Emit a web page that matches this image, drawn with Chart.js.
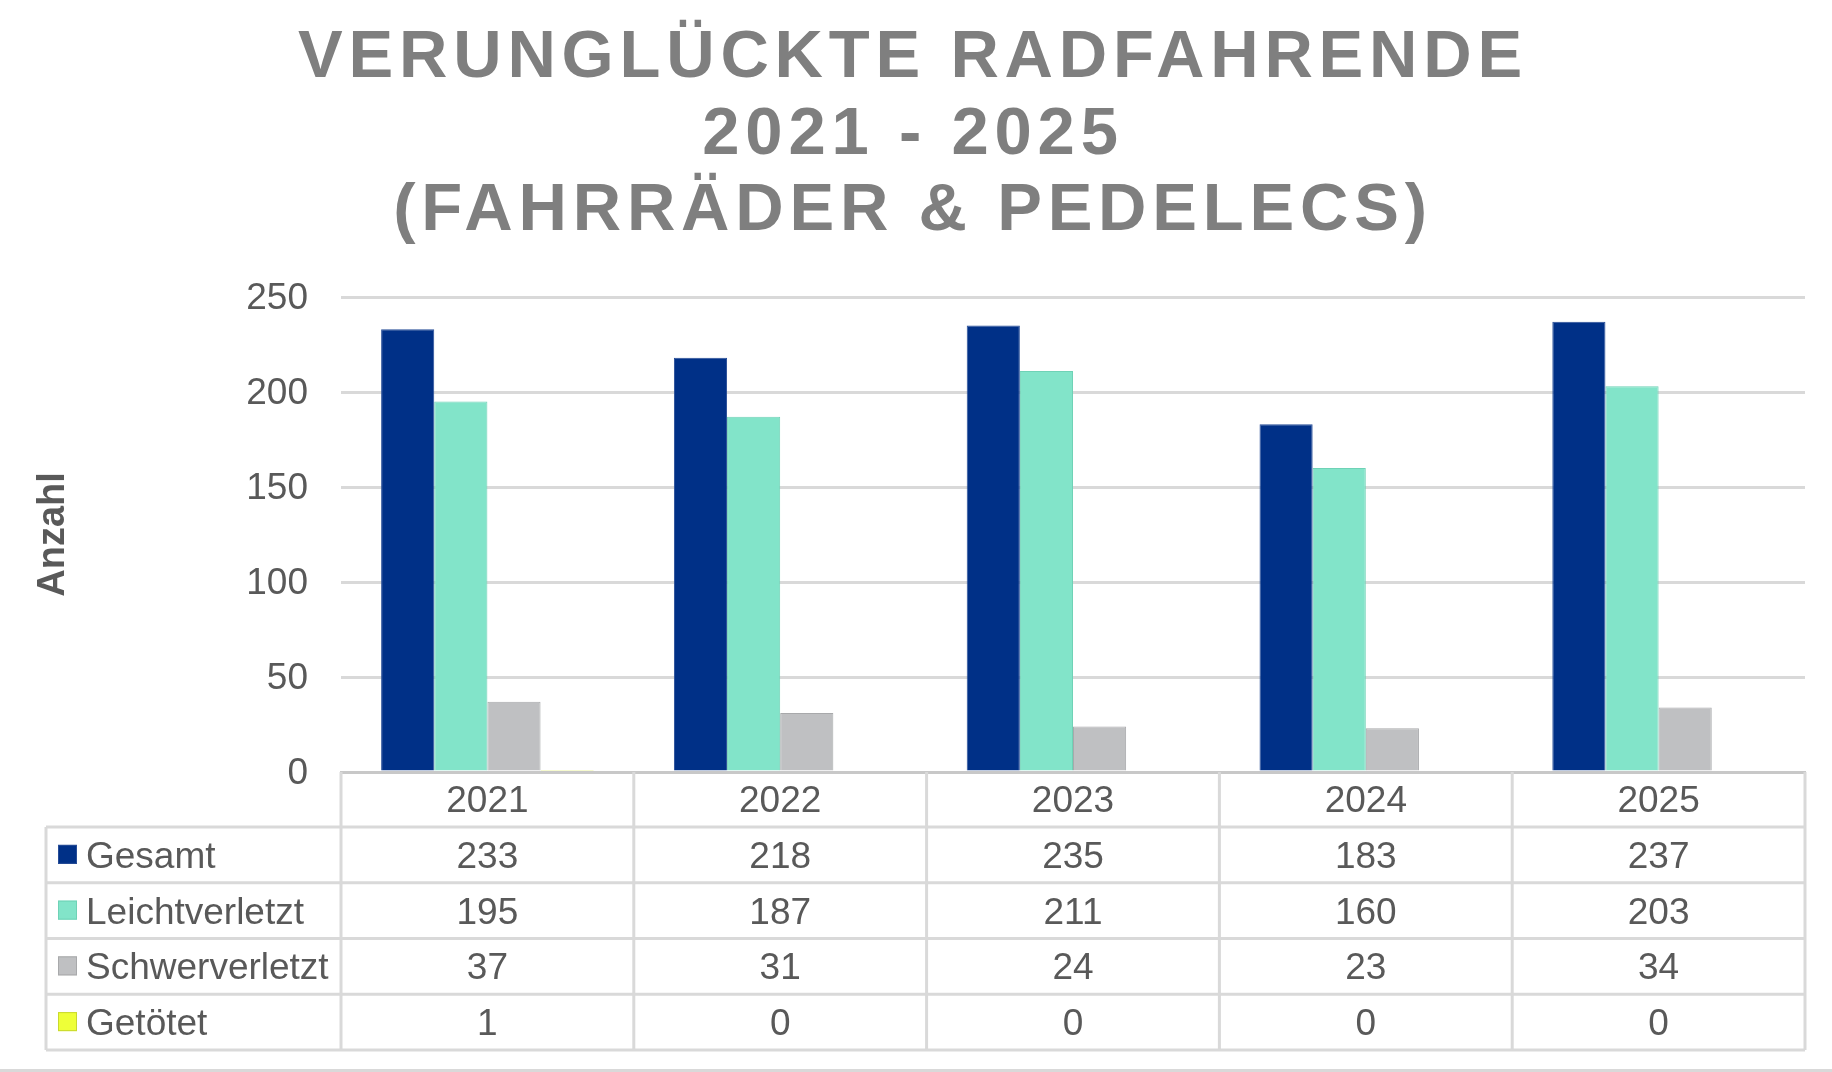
<!DOCTYPE html>
<html>
<head>
<meta charset="utf-8">
<title>Verunglückte Radfahrende 2021 - 2025</title>
<script src="https://cdn.jsdelivr.net/npm/chart.js@4.4.1/dist/chart.umd.min.js"></script>
<style>
  html, body { margin: 0; padding: 0; background: #fff; }
  #wrap { width: 1832px; height: 1072px; position: relative; }
</style>
</head>
<body>
<div id="wrap"><canvas id="radChart"></canvas></div>
<script>
const years = ['2021', '2022', '2023', '2024', '2025'];
const gesamt = [233, 218, 235, 183, 237];
const leicht = [195, 187, 211, 160, 203];
const schwer = [37, 31, 24, 23, 34];
const getoetet = [1, 0, 0, 0, 0];
const seriesNames = ['Gesamt', 'Leichtverletzt', 'Schwerverletzt', 'Getötet'];
const yTicks = [0, 50, 100, 150, 200, 250];
const titleLines = ['VERUNGLÜCKTE RADFAHRENDE', '2021 - 2025', '(FAHRRÄDER & PEDELECS)'];

const fills = ['#003087', '#82E4C9', '#BFC0C2', '#EEFF38'];
const edges = ['#264C97', '#6FD2B6', '#A8A9AB', '#C9D92E'];
const FONT = '"Liberation Sans", Arial, sans-serif';
const TEXT = '#595959';
const LINE = '#D9D9D9';

// big spaced-out title on top
const titlePlugin = {
  id: 'bigTitle',
  afterDraw(chart) {
    const ctx = chart.ctx;
    ctx.save();
    ctx.font = 'bold 67px ' + FONT;
    ctx.fillStyle = '#7F7F7F';
    ctx.textAlign = 'center';
    ctx.textBaseline = 'alphabetic';
    ctx.letterSpacing = '5.8px';
    for (let i = 0; i < titleLines.length; i++) {
      ctx.fillText(titleLines[i], 913, 77 + i * 76.5);
    }
    ctx.restore();
  }
};

// data table under the x axis, like the excel one
const tablePlugin = {
  id: 'dataTable',
  afterDraw(chart) {
    const ctx = chart.ctx;
    const xs = chart.scales.x;
    const top = chart.chartArea.bottom;
    const n = years.length;
    const colW = (xs.right - xs.left) / n;
    const firstRow = top + 55;
    const rowH = 55.75;
    const tableLeft = 46;
    const rows = [gesamt, leicht, schwer, getoetet];

    ctx.save();
    ctx.strokeStyle = LINE;
    ctx.lineWidth = 3;
    ctx.beginPath();
    for (let k = 0; k <= rows.length; k++) {
      const y = firstRow + k * rowH;
      ctx.moveTo(tableLeft, y);
      ctx.lineTo(xs.right, y);
    }
    for (let i = 0; i <= n; i++) {
      const x = xs.left + i * colW;
      ctx.moveTo(x, top);
      ctx.lineTo(x, firstRow + rows.length * rowH);
    }
    ctx.moveTo(tableLeft, firstRow);
    ctx.lineTo(tableLeft, firstRow + rows.length * rowH);
    // outer frame line at the very bottom
    ctx.moveTo(0, 1070.5);
    ctx.lineTo(chart.width, 1070.5);
    ctx.stroke();

    ctx.font = '37px ' + FONT;
    ctx.fillStyle = TEXT;
    ctx.textBaseline = 'alphabetic';
    for (let r = 0; r < rows.length; r++) {
      const mid = firstRow + r * rowH + rowH / 2;
      // legend key
      ctx.fillStyle = fills[r];
      ctx.fillRect(58, mid - 10, 19, 19);
      ctx.strokeStyle = edges[r];
      ctx.lineWidth = 1;
      ctx.strokeRect(58.5, mid - 9.5, 18, 18);
      ctx.fillStyle = TEXT;
      ctx.textAlign = 'left';
      ctx.fillText(seriesNames[r], 86, mid + 13);
      ctx.textAlign = 'center';
      for (let i = 0; i < n; i++) {
        ctx.fillText(String(rows[r][i]), xs.getPixelForValue(i), mid + 13);
      }
    }
    ctx.restore();
  }
};

const allSeries = [gesamt, leicht, schwer, getoetet];
const datasets = allSeries.map((d, i) => ({
  label: seriesNames[i],
  data: d,
  backgroundColor: fills[i],
  borderColor: edges[i],
  borderWidth: 1
}));

const ctx = document.getElementById('radChart').getContext('2d');
new Chart(ctx, {
  type: 'bar',
  data: { labels: years, datasets: datasets },
  options: {
    responsive: true,
    maintainAspectRatio: false,
    animation: false,
    layout: { padding: { top: 297, right: 27, bottom: 0, left: 0 } },
    datasets: { bar: { barPercentage: 1, categoryPercentage: 0.726 } },
    plugins: {
      legend: { display: false },
      tooltip: { enabled: false },
      title: { display: false }
    },
    scales: {
      x: {
        grid: { display: false, drawTicks: false },
        border: { display: true, color: '#C8C8C8', width: 3 },
        ticks: { color: TEXT, font: { family: FONT, size: 37 }, padding: 8 },
        afterFit(s) { s.height = 300; }
      },
      y: {
        min: 0,
        max: 250,
        afterBuildTicks(s) { s.ticks = yTicks.map(v => ({ value: v })); },
        ticks: { color: TEXT, font: { family: FONT, size: 37 }, padding: 33, labelOffset: 2 },
        grid: { color: LINE, lineWidth: 3, drawTicks: false },
        border: { display: false },
        title: {
          display: true,
          text: 'Anzahl',
          color: TEXT,
          font: { family: FONT, size: 38, weight: 'bold' },
          padding: { top: 31, bottom: 0 }
        },
        afterFit(s) { s.width = 341; }
      }
    }
  },
  plugins: [titlePlugin, tablePlugin]
});
</script>
</body>
</html>
